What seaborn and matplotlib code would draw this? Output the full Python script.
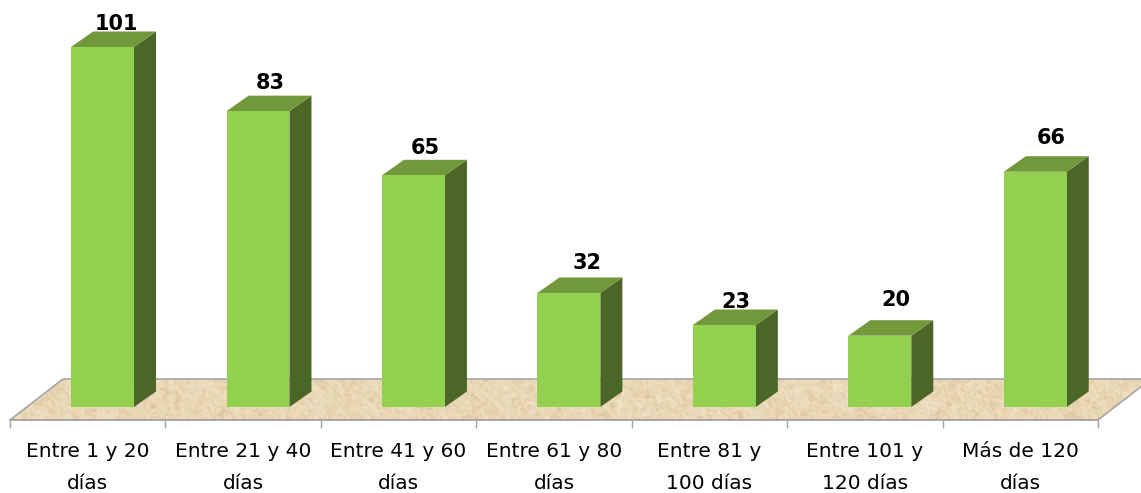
import numpy as np
import matplotlib
matplotlib.use("Agg")
import matplotlib.pyplot as plt
from matplotlib.colors import LinearSegmentedColormap
from matplotlib.patches import Polygon
import seaborn as sns

categories = ["Entre 1 y 20\ndías", "Entre 21 y 40\ndías", "Entre 41 y 60\ndías",
              "Entre 61 y 80\ndías", "Entre 81 y\n100 días", "Entre 101 y\n120 días",
              "Más de 120\ndías"]
values = [101, 83, 65, 32, 23, 20, 66]

# pixel nudges of the value labels relative to the bar's top-front centre
label_dx = [13.5, 12.5, 12, 18, 12, 16, 15.5]
label_dy = [23, 28, 27, 30, 23, 36, 34]

W, H = 1141, 493
FRONT, SIDE, TOP = "#92D050", "#4B6626", "#71993C"
LINE = "#A6A6A6"

sns.set_theme(style="white")
plt.rcParams["font.family"] = ["DejaVu Sans"]

fig = plt.figure(figsize=(W / 100, H / 100), dpi=100, facecolor="white")

def rect(x0, x1, y_top, y_bot):
    return [x0 / W, 1 - y_bot / H, (x1 - x0) / W, (y_bot - y_top) / H]

# floor plane and category axis
floor = fig.add_axes(rect(10, 1098, 379, 420))
floor.patch.set_visible(False)
floor.set_xlim(-0.5, 6.5)
floor.set_ylim(0, 1)
skew = 53 / (1088 / 7)
verts = [(-0.5, 0), (6.5, 0), (6.5 + skew, 1), (-0.5 + skew, 1)]
yy, xx = np.mgrid[0:1:80j, 0:1:1100j]
wx = xx + 0.012 * np.sin(yy * 11 + xx * 150) + 0.006 * np.sin(xx * 430 - yy * 17)
wy = yy + 0.25 * np.sin(xx * 190 + yy * 5) + 0.12 * np.sin(xx * 510 + yy * 9)
tex = (np.sin(wx * 230 + wy * 9)
       + 0.9 * np.sin(wx * 130 - wy * 14)
       + 0.8 * np.sin(wx * 410 + wy * 21)
       + 0.5 * np.sin(wx * 760 - wy * 34)
       + 0.7 * np.sin(wx * 23 + wy * 6))
cmap = LinearSegmentedColormap.from_list("sand", ["#DAC39C", "#EAD8B6", "#F1E5CB"])
im = floor.imshow(tex, extent=(-0.5, 6.5 + skew, 0, 1), origin="lower", cmap=cmap,
                  aspect="auto", zorder=0)
poly = Polygon(verts, closed=True, facecolor="none", edgecolor=LINE, linewidth=1.2,
               zorder=1, clip_on=False)
floor.add_patch(poly)
im.set_clip_box(fig.bbox)
im.set_clip_path(poly)
floor.set_xlim(-0.5, 6.5)
for s in ["top", "left", "right"]:
    floor.spines[s].set_visible(False)
floor.spines["bottom"].set_color(LINE)
floor.spines["bottom"].set_linewidth(1.2)
floor.set_yticks([])
floor.set_xticks(np.arange(-0.5, 7, 1))
floor.set_xticklabels([])
floor.set_xticks(np.arange(len(categories)), labels=categories, minor=True)
floor.tick_params(axis="x", which="major", length=5.5, width=1, color=LINE, bottom=True)
floor.tick_params(axis="x", which="minor", length=0, pad=16, labelsize=14.5,
                  labelcolor="black", bottom=True)
for t in floor.get_xticklabels(minor=True):
    t.set_linespacing(1.87)

# bars
ax = fig.add_axes(rect(24.8, 1113, 0, 407))
ax.patch.set_visible(False)
sns.barplot(x=categories, y=values, color=FRONT, saturation=1, width=0.405, ax=ax, zorder=3)
ax.set_xlim(-0.5, 6.5)
ax.set_ylim(0, 407 / (360 / 101))
ax.axis("off")

px_x = 1088.2 / 7
px_y = 360 / 101
ddx, ddy = 22 / px_x, 15.5 / px_y
for bar, v, dx, dy in zip(ax.patches, values, label_dx, label_dy):
    x0, w, h = bar.get_x(), bar.get_width(), bar.get_height()
    bar.set_linewidth(0)
    x1 = x0 + w
    ax.add_patch(Polygon([(x1, 0), (x1 + ddx, ddy), (x1 + ddx, h + ddy), (x1, h)],
                         facecolor=SIDE, edgecolor="none", zorder=2))
    ax.add_patch(Polygon([(x0, h), (x1, h), (x1 + ddx, h + ddy), (x0 + ddx, h + ddy)],
                         facecolor=TOP, edgecolor="none", zorder=2))
    ax.text(x0 + w / 2 + dx / px_x, h + dy / px_y, str(v), ha="center", va="center",
            fontsize=15, fontweight="bold", color="black", zorder=5, clip_on=False)

fig.savefig("out.png", dpi=100)
